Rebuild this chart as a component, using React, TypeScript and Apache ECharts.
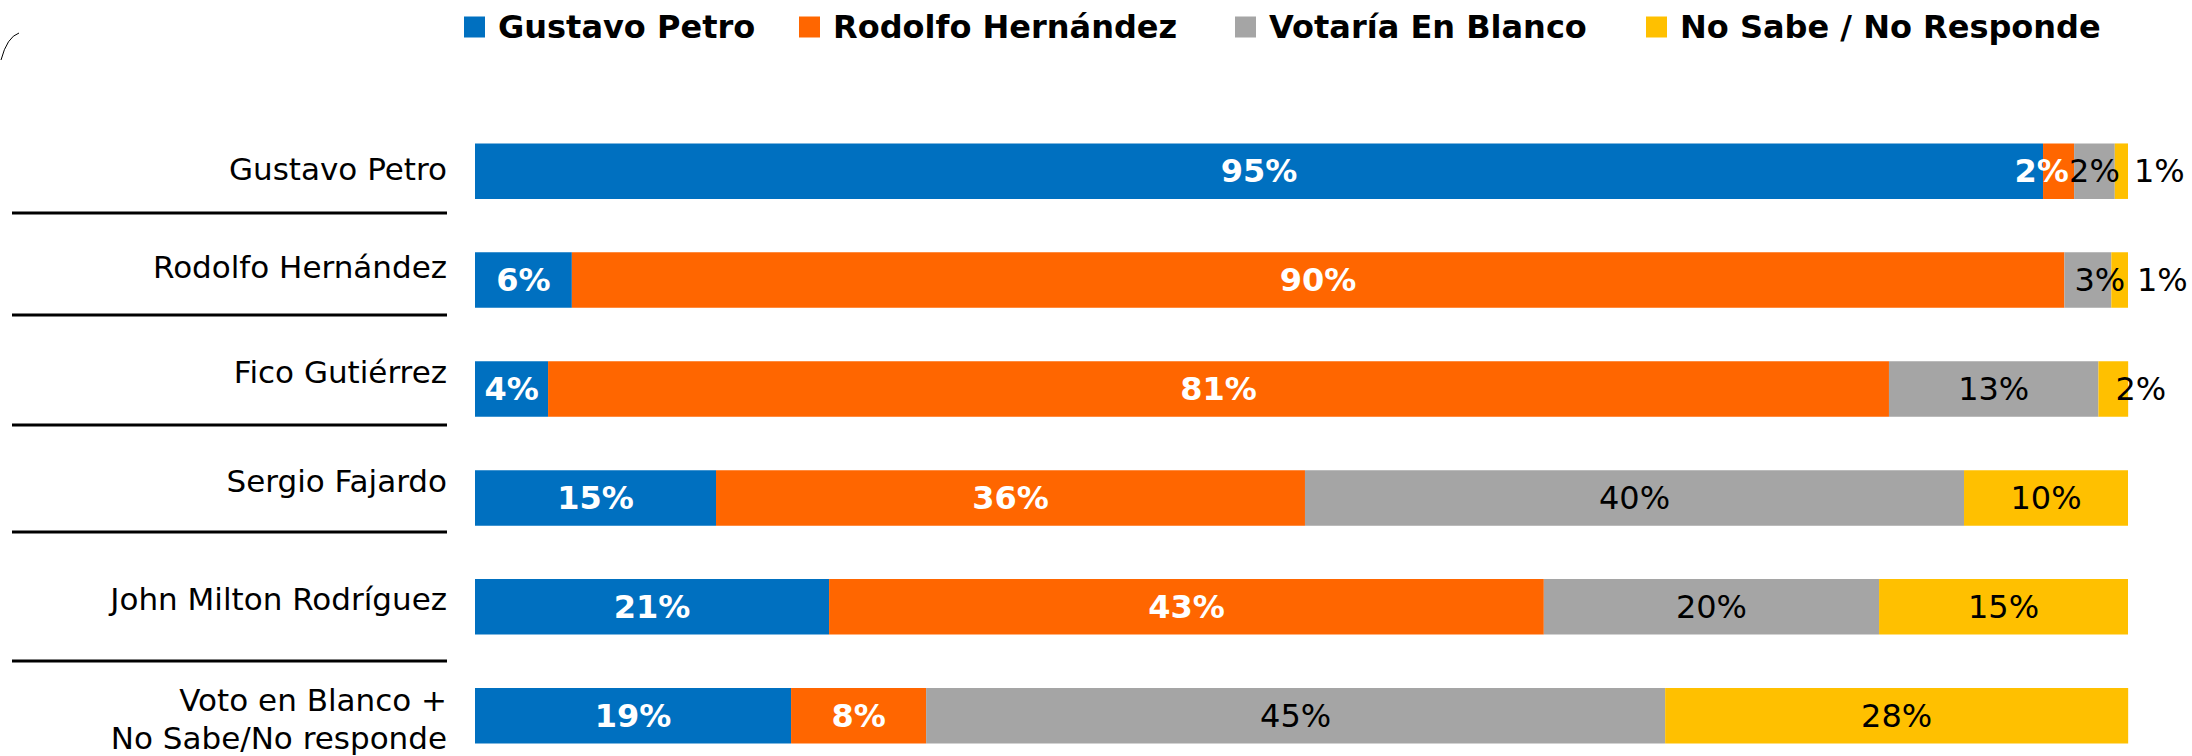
import React, { useEffect, useRef } from "react";
import * as echarts from "echarts";

const categories = [
  "Gustavo Petro",
  "Rodolfo Hernández",
  "Fico Gutiérrez",
  "Sergio Fajardo",
  "John Milton Rodríguez",
  "Voto en Blanco +\nNo Sabe/No responde",
];
const seriesNames = ["Gustavo Petro", "Rodolfo Hernández", "Votaría En Blanco", "No Sabe / No Responde"];
const petroValues = [94.86, 5.86, 4.42, 14.58, 21.42, 19.12];
const hernandezValues = [1.88, 90.29, 81.12, 35.63, 43.24, 8.17];
const blancoValues = [2.46, 2.84, 12.67, 39.87, 20.28, 44.71];
const noSabeValues = [0.8, 1.01, 1.8, 9.92, 15.06, 28.01];

const seriesValues = [petroValues, hernandezValues, blancoValues, noSabeValues];
const colors = ["#0070C0", "#FF6600", "#A5A5A5", "#FFC000"];
const FONT = "'DejaVu Sans', sans-serif";

// layout/styling tweaks (not data)
const labelLift = [2.5, 13, 17, 17, 8, 0];
const legendLeft = [459, 794, 1230, 1641];
const separatorY = [213, 315, 425, 532, 661];
const labelTweaks: Record<string, any> = {
  "1-0": { offset: [-17, 0] },
  "2-1": { offset: [12, 0] },
  "3-0": { position: "right", distance: 6 },
  "3-1": { position: "right", distance: 9 },
  "3-2": { position: "insideLeft", distance: 0, offset: [17, 0] },
};

export default function App() {
  const ref = useRef<HTMLDivElement>(null);
  useEffect(() => {
    if (!ref.current) return;
    const chart = echarts.init(ref.current, null, { renderer: "svg" });

    const rich: Record<string, any> = {};
    labelLift.forEach((d, i) => {
      rich["l" + i] =
        i === 5
          ? { fontFamily: FONT, fontSize: 31, color: "#000", align: "right", padding: [7, 0, 0, 0] }
          : { fontFamily: FONT, fontSize: 31, color: "#000", align: "right", padding: [0, 0, 2 * d, 0] };
    });

    const series = seriesNames.map((name, si) => ({
      name,
      type: "bar",
      stack: "total",
      barWidth: 55.5,
      clip: false,
      itemStyle: { color: colors[si] },
      label: {
        show: true,
        position: "inside",
        fontFamily: FONT,
        fontSize: 32,
        fontWeight: si < 2 ? "bold" : "normal",
        color: si < 2 ? "#fff" : "#000",
        formatter: (p: any) => Math.round(p.value) + "%",
      },
      data: seriesValues[si].map((v, ci) => {
        const t = labelTweaks[si + "-" + ci];
        return t ? { value: v, label: t } : v;
      }),
    }));

    chart.setOption({
      animation: false,
      backgroundColor: "#fff",
      legend: seriesNames.map((n, i) => ({
        data: [n],
        left: legendLeft[i],
        top: 6,
        itemWidth: 21,
        itemHeight: 21,
        icon: "rect",
        selectedMode: false,
        textStyle: {
          fontFamily: FONT,
          fontWeight: "bold",
          fontSize: 32,
          color: "#000",
          padding: [0, 0, 0, 8],
        },
      })),
      grid: { left: 475, top: 171.2, width: 1653, height: 544.5, containLabel: false },
      xAxis: { type: "value", min: 0, max: 100, show: false },
      yAxis: {
        type: "category",
        inverse: true,
        boundaryGap: false,
        data: categories,
        axisLine: { show: false },
        axisTick: { show: false },
        splitLine: { show: false },
        axisLabel: {
          margin: 28,
          formatter: (value: string, index: number) =>
            value
              .split("\n")
              .map((line) => `{l${index}|${line}}`)
              .join("\n"),
          rich,
        },
      },
      graphic: [
        ...separatorY.map((y) => ({
          type: "line",
          shape: { x1: 12, y1: y, x2: 447, y2: y },
          style: { stroke: "#000", lineWidth: 3 },
        })),
        {
          type: "bezierCurve",
          shape: { x1: 19, y1: 33, x2: 1, y2: 60, cpx1: 7, cpy1: 37 },
          style: { stroke: "#000", lineWidth: 1, fill: "none" },
        },
      ],
      series,
    });
    return () => chart.dispose();
  }, []);
  return (
    <div
      ref={ref}
      style={{ position: "absolute", left: 0, top: 0, width: 2192, height: 756 }}
    />
  );
}
